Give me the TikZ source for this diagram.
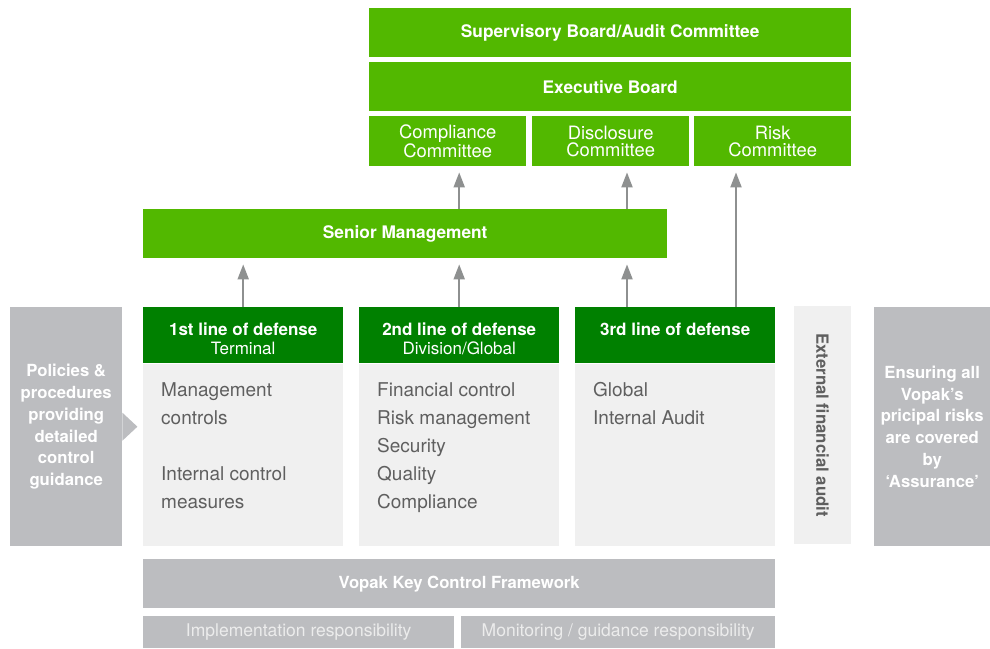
\documentclass[tikz,border=0pt]{standalone}
\usepackage{fontspec}
\setmainfont{TeX Gyre Heros}
\usetikzlibrary{positioning, arrows.meta}
\definecolor{vopakgreen}{RGB}{82, 184, 0}
\definecolor{vopakdark}{RGB}{0, 128, 0}
\definecolor{vopakgray}{RGB}{188, 189, 192}
\definecolor{vopaklight}{RGB}{240, 240, 240}
\definecolor{arrowgray}{RGB}{142, 144, 144}
\definecolor{textgray}{RGB}{95, 95, 95}
\definecolor{paletext}{RGB}{236, 236, 236}

\begin{document}
\begin{tikzpicture}[x=1pt, y=-1pt,
    box/.style={anchor=north west, inner sep=0pt, align=center, text=white,
      font=\fontsize{17.3}{19}\selectfont\bfseries},
    greenbox/.style={box, fill=vopakgreen},
    headbox/.style={box, fill=vopakdark, minimum width=200pt, minimum height=56pt,
      font=\fontsize{17}{19}\selectfont},
    bodybox/.style={box, fill=vopaklight, minimum width=200pt, minimum height=182pt},
    bodytext/.style={anchor=north west, inner sep=0pt, align=left, text=textgray,
      font=\fontsize{19}{28}\selectfont},
    graybox/.style={box, fill=vopakgray, font=\fontsize{16.7}{21.8}\selectfont\bfseries},
    uparrow/.style={draw=arrowgray, line width=2pt, shorten >=6pt,
      -{Triangle[width=11pt, length=15pt]}}]
  \useasboundingbox (0, 0) rectangle (990, 648);
  % Board and committees
  \node[greenbox, minimum width=482pt, minimum height=49pt] (sup) at (369, 8)
    {Supervisory Board/Audit Committee};
  \node[greenbox, minimum width=482pt, minimum height=49pt] (exec) at (369, 62)
    {Executive Board};
  \node[greenbox, minimum width=157pt, minimum height=50pt, font=\fontsize{18.4}{17}\selectfont]
    (comp) at (369, 116) {Compliance\\Committee};
  \node[greenbox, minimum width=157pt, minimum height=50pt, font=\fontsize{18.4}{17}\selectfont]
    (disc) at (532, 116) {Disclosure\\Committee};
  \node[greenbox, minimum width=157pt, minimum height=50pt, font=\fontsize{18.4}{17}\selectfont]
    (risk) at (694, 116) {Risk\\Committee};
  % Senior management
  \node[greenbox, minimum width=524pt, minimum height=49pt] (sm) at (143, 209)
    {Senior Management};
  % Three lines of defense
  \node[headbox] (l1) at (143, 307) {\rule{0pt}{20pt}\textbf{1st line of defense}\\Terminal};
  \node[headbox] (l2) at (359, 307) {\rule{0pt}{20pt}\textbf{2nd line of defense}\\Division/Global};
  \node[headbox] (l3) at (575, 307) {\rule{0pt}{20pt}\textbf{3rd line of defense}\\\vphantom{Terminal}};
  \node[bodybox, below=0pt of l1.south west, anchor=north west] (b1) {};
  \node[bodybox, below=0pt of l2.south west, anchor=north west] (b2) {};
  \node[bodybox, below=0pt of l3.south west, anchor=north west] (b3) {};
  \node[bodytext, below right=19pt and 18pt of b1.north west] (t1)
    {Management\\controls\\[28pt]Internal control\\measures};
  \node[bodytext, below right=19pt and 18pt of b2.north west] (t2)
    {Financial control\\Risk management\\Security\\Quality\\Compliance};
  \node[bodytext, below right=19pt and 18pt of b3.north west] (t3)
    {Global\\Internal Audit};
  % Side boxes
  \node[graybox, minimum width=112pt, minimum height=239pt] (pol) at (10, 307)
    {Policies \&\\procedures\\providing\\detailed\\control\\guidance};
  \fill[vopakgray] ([yshift=14pt]pol.east) -- ([xshift=15pt]pol.east)
    -- ([yshift=-14pt]pol.east) -- cycle;
  \node[box, fill=vopaklight, text=textgray, rotate=-90, anchor=center,
    font=\fontsize{16.8}{19}\selectfont\bfseries,
    minimum width=238pt, minimum height=57pt] (ext) at (822.5, 425)
    {External financial audit};
  \node[graybox, minimum width=116pt, minimum height=239pt] (assur) at (874, 307)
    {Ensuring all\\Vopak's\\pricipal risks\\are covered\\by\\`Assurance'};
  % Key control framework
  \node[graybox, minimum width=632pt, minimum height=49pt] (kcf) at (143, 559)
    {Vopak Key Control Framework};
  \node[box, fill=vopakgray, text=paletext, font=\fontsize{17.5}{19}\selectfont,
    minimum width=311pt, minimum height=32pt] (impl) at (143, 616)
    {Implementation responsibility};
  \node[box, fill=vopakgray, text=paletext, font=\fontsize{17.5}{19}\selectfont,
    minimum width=314pt, minimum height=32pt] (mon) at (461, 616)
    {Monitoring / guidance responsibility};
  % Reporting arrows
  \draw[uparrow] (l1.north) -- (l1.north |- sm.south);
  \draw[uparrow] (l2.north) -- (l2.north |- sm.south);
  \draw[uparrow] ([xshift=52pt]l3.north west) -- ([xshift=52pt]l3.north west |- sm.south);
  \draw[uparrow] (l2.north |- sm.north) -- (l2.north |- comp.south);
  \draw[uparrow] ([xshift=52pt]l3.north west |- sm.north)
    -- ([xshift=52pt]l3.north west |- disc.south);
  \draw[uparrow] ([xshift=161pt]l3.north west) -- ([xshift=161pt]l3.north west |- risk.south);
\end{tikzpicture}
\end{document}
